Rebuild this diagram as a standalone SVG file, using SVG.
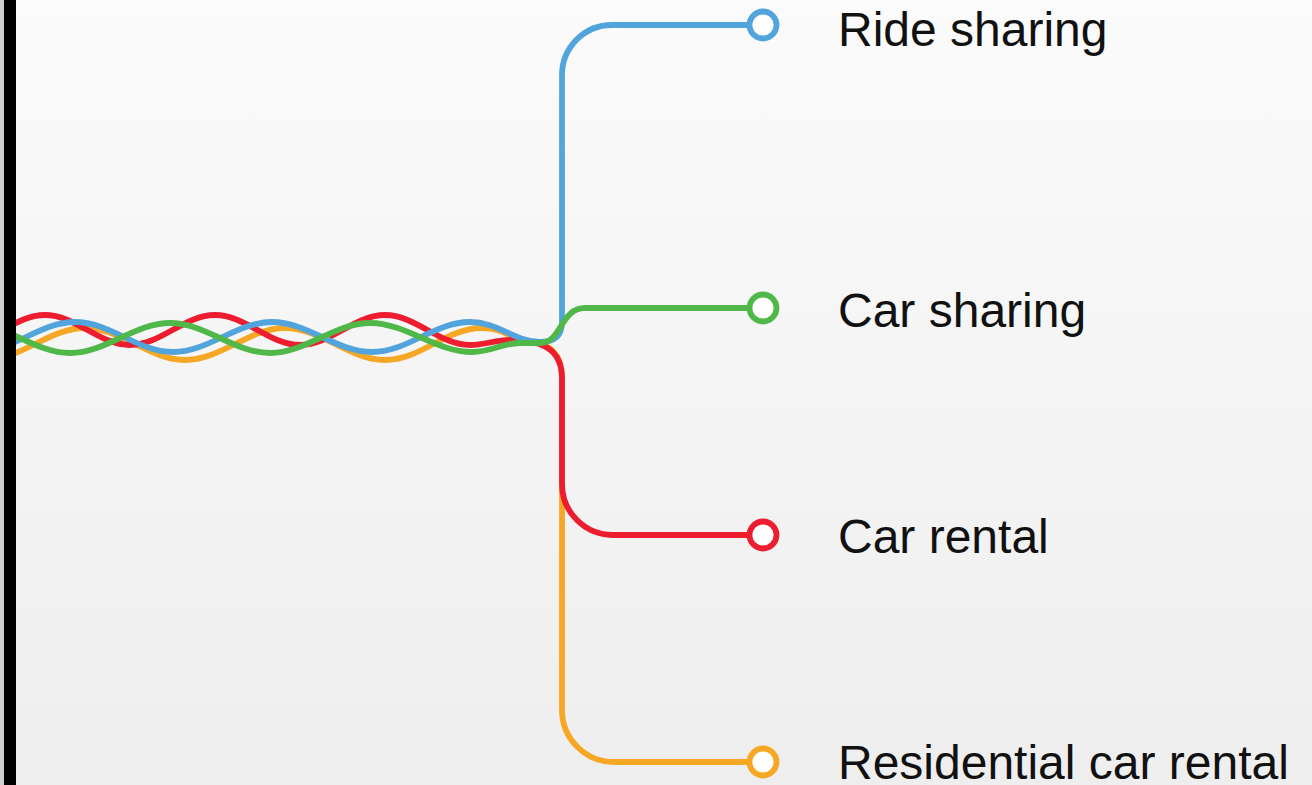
<svg xmlns="http://www.w3.org/2000/svg" width="1312" height="785" viewBox="0 0 1312 785">
<defs>
<linearGradient id="bg" x1="0" y1="0" x2="0" y2="1">
<stop offset="0" stop-color="#fbfbfb"/>
<stop offset="1" stop-color="#eeeeee"/>
</linearGradient>
</defs>
<style>
.ln{fill:none;stroke-width:5.8;stroke-linecap:butt;stroke-linejoin:round}
.dot{fill:#ffffff;stroke-width:5.8}
.lbl{font-family:"Liberation Sans",Arial,sans-serif;font-size:48px;fill:#111111}
.blue{stroke:#52a4dc}
.green{stroke:#50b848}
.red{stroke:#ed1c2e}
.orange{stroke:#f6a724}
</style>
<rect x="0" y="0" width="1312" height="785" fill="url(#bg)"/>
<g id="connectors">
<path class="ln orange" d="M -15,360 C 21,360 49,328 85,328 C 121,328 149,360 185,360 C 221,360 249,328 285,328 C 321,328 349,360 385,360 C 421,360 446,328 482,328 C 505,328 512,340 525,341 C 545,342 562,350 562,378 L 562,710 A 52 52 0 0 0 614,762 L 750,762"/>
<path class="ln red" d="M -40,345 C -9,345 14,315 45,315 C 76,315 99,345 130,345 C 161,345 184,315 215,315 C 246,315 269,345 300,345 C 331,345 354,315 385,315 C 416,315 439,345 470,345 C 485,345 495,340 510,340 C 540,340 562,348 562,378 L 562,484 A 51 51 0 0 0 613,535 L 750,535"/>
<path class="ln blue" d="M -23,352 C 13,352 39,322 75,322 C 111,322 137,352 173,352 C 209,352 236,322 272,322 C 308,322 336,352 372,352 C 408,352 434,322 470,322 C 498,322 515,342 540,342 C 554,342 562,336 562,322 L 562,75 A 50 50 0 0 1 612,25 L 750,25"/>
<path class="ln green" d="M -30,323 C 6,323 34,353 70,353 C 106,353 134,323 170,323 C 206,323 234,353 270,353 C 306,353 334,323 370,323 C 406,323 436,352 472,352 C 492,352 502,343 520,343 L 540,343 C 562,343 560,308 585,308 L 750,308"/>
</g>
<rect x="0" y="0" width="4" height="785" fill="#d0d0d0"/>
<rect x="4" y="0" width="12" height="785" fill="#000000"/>
<g id="node-ride-sharing">
<circle class="dot blue" cx="763" cy="25" r="13.5"/>
<text class="lbl" x="838" y="46">Ride sharing</text>
</g>
<g id="node-car-sharing">
<circle class="dot green" cx="763" cy="308" r="13.5"/>
<text class="lbl" x="838" y="327">Car sharing</text>
</g>
<g id="node-car-rental">
<circle class="dot red" cx="763" cy="535" r="13.5"/>
<text class="lbl" x="838" y="553">Car rental</text>
</g>
<g id="node-residential-car-rental">
<circle class="dot orange" cx="763" cy="762" r="13.5"/>
<text class="lbl" x="838" y="779">Residential car rental</text>
</g>
</svg>
